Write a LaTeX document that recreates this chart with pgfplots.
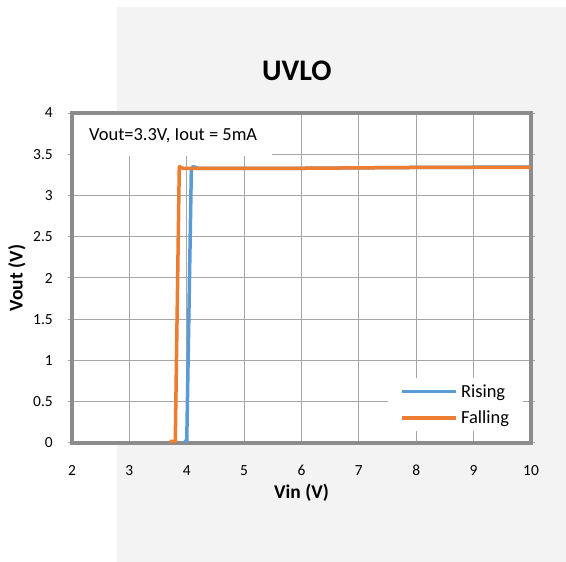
\documentclass[border=0pt]{standalone}
\usepackage{fontspec}
\setmainfont{Carlito}
\usepackage{pgfplots}
\pgfplotsset{compat=1.18}
\definecolor{serblue}{HTML}{5B9BD5}
\definecolor{serorange}{HTML}{ED7D31}
\definecolor{framegray}{HTML}{8C8C8C}
\definecolor{gridgray}{HTML}{A6A6A6}
\definecolor{bggray}{HTML}{F3F3F3}

\begin{document}
\begin{tikzpicture}
% page background (white left strip, light gray panel)
\fill[white] (0bp,0bp) rectangle (566bp,562bp);
\fill[bggray] (117bp,0bp) rectangle (566bp,555bp);
\begin{axis}[
    at={(72bp,119bp)}, anchor=south west,
    width=459bp, height=330bp, scale only axis,
    xmin=2, xmax=10, ymin=0, ymax=4,
    xtick={2,3,4,5,6,7,8,9,10},
    ytick={0,0.5,1,1.5,2,2.5,3,3.5,4},
    /pgf/number format/assume math mode=true,
    /pgf/number format/fixed,
    ticklabel style={font=\fontsize{15.5}{18}\selectfont, inner sep=0pt},
    xticklabel style={anchor=base, yshift=-29bp},
    yticklabel style={anchor=east, xshift=-15bp},
    grid=major,
    major grid style={gridgray, line width=1bp},
    axis line style={framegray, line width=4bp},
    tick align=outside,
    xtick style={draw=none},
    ytick style={gridgray, line width=1bp},
    major tick length=4bp,
    axis background/.style={fill=white},
    clip=false,
    title={UVLO},
    title style={at={(axis description cs:0.49,1.109)}, anchor=center,
        font=\fontsize{30}{36}\selectfont\bfseries},
    xlabel={Vin (V)},
    xlabel style={at={(axis description cs:0.5,-0.15)}, anchor=center,
        font=\fontsize{19.5}{23}\selectfont\bfseries},
    ylabel={Vout (V)},
    ylabel style={at={(axis description cs:-0.12,0.5)}, anchor=center, rotate=0,
        font=\fontsize{19.5}{23}\selectfont\bfseries},
    legend style={at={(0.983,0.036)}, anchor=south east, draw=none, fill=white,
        font=\fontsize{18.5}{22}\selectfont,
        row sep=10bp, column sep=2bp, inner xsep=13bp, inner ysep=5bp,
        nodes={inner sep=1bp}, cells={anchor=west}},
    legend image code/.code={\draw[#1] (0bp,0bp) -- (54bp,0bp);},
]
    \addplot[serblue, line width=3.5bp, line join=round] coordinates {
        (3.95,0.02) (4.00,0.02) (4.08,3.32) (4.11,3.35) (4.20,3.33)
        (6,3.33) (8,3.34) (10,3.345)
    };
    \addlegendentry{Rising}
    \addplot[serorange, line width=3.5bp, line join=round] coordinates {
        (3.70,0.02) (3.80,0.02) (3.87,3.35) (3.93,3.33)
        (6,3.33) (8,3.34) (10,3.34)
    };
    \addlegendentry{Falling}
    \node[fill=white, anchor=north west, inner sep=0pt,
        minimum width=198bp, minimum height=41bp,
        font=\fontsize{18.5}{22}\selectfont]
        at ([xshift=2bp,yshift=-2bp]rel axis cs:0,1) {Vout=3.3V, Iout = 5mA};
\end{axis}
\end{tikzpicture}
\end{document}
